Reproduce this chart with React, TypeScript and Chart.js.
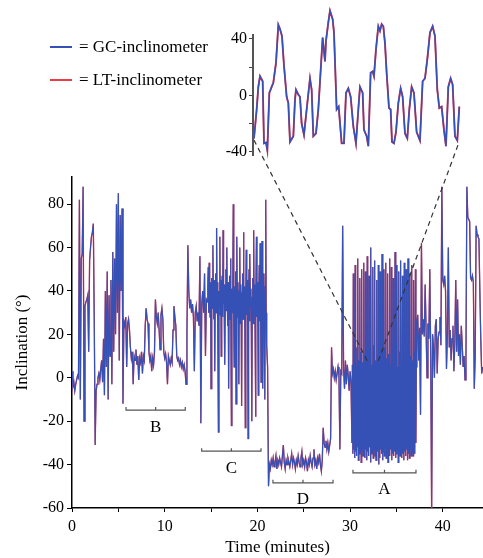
import React, { useEffect, useRef } from "react";
import { Chart, registerables } from "chart.js";

Chart.register(...registerables);

const SERIF = "'Liberation Serif', 'Times New Roman', serif";
const GC_COLOR = "#3651b6";
const LT_COLOR = "#ec3c46";
const INK = "#000000";

const seriesNames = ["GC-inclinometer", "LT-inclinometer"];

// ---- Main record (inclination in degrees) ----
const seg1Start = 0;
const seg1Step = 0.1;
const seg1 = [
  3, -4, -2, -6, -3, -1, 1, 0, 82, -10,
  55, 57, 88, -20, 33, 35, 36, 38, 12, 54,
  60, 65, 67, 71, 27, -31, -6, -3, 0, 2,
  -1, 4, 8, -2, 18, -8, 40, 5, 49, -10,
  38, 10, 45, -3, 58, 12, 55, 20, 80, 30,
  85, 8, 75, 40, 78, -12, 26, 24, 28, 5,
  25, 27, 22, 14, 9, 12, -3, 10, 8, 13,
  6, 10, -1, 9, 7, 12, 2, 10, 8, 24,
  32, 27, 25, 12, 8, 10, 3, 9, 6, 12,
  36, 28, 25, 30, 22, 13, 29, 32, 27, 12,
  9, 11, 7, -3, 10, 8, 6, 9, 7, 22,
  33, 28, 24, 10, 8, 9, 6, 8, 5, 7,
  4, 6, 3, -3, 20, 61, 40, 32, 36, 30,
  34, 28, 3, 30, 33, 26, 30, 24, 56, -21,
  34, 40, 30, 48, 10, 36,
];

const segCStart = 14.6;
const segCStep = 0.05;
const segC = [
  35, 42, 51, 30, 53, 38, 28, 44, -5, 36,
  46, 32, 61, 40, 27, 45, 3, 38, 48, 30,
  69, 35, 44, 26, -25, 40, 33, 65, 29, 45,
  10, 38, 47, 28, 68, 34, 43, 25, 6, 39,
  50, 31, 60, 36, 24, 44, -5, 35, 47, 27,
  55, 38, -22, 41, 30, 46, 80, 26, 5, 42,
  33, 49, -12, 37, 65, 28, 44, 32, -3, 40,
  60, 25, 43, 34, -13, 39, 48, 27, 67, 31,
  42, 22, -23, 38, 59, 29, 45, 24, -28, 36,
  50, 26, 57, 33, 41, 20, -20, 37, 46, 25,
  68, 30, 43, 22, -18, 35, 65, 28, 44, 24,
  -8, 38, 52, 26, 62, 31, -2, 40, 63, 27,
  -5, 36, 48, 23, -10, 42, 82, 30,
];

const seg3Start = 21.0;
const seg3Step = 0.1;
const seg3 = [
  15, 5, -50, -40, -42, -38, -40, -37, -41, -39,
  -36, -42, -38, -40, -37, -39, -41, -36, -31, -39,
  -42, -38, -40, -37, -39, -41, -38, -35, -40, -37,
  -39, -42, -38, -40, -36, -39, -41, -37, -34, -40,
  -38, -41, -37, -39, -43, -38, -40, -36, -39, -41,
  -37, -33, -40, -38, -42, -37, -39, -35, -40, -43,
  -38, -23, -30, -32, -29, -33, -30, -34, -31, -28,
  14, 2, 4, 0, 3, -1, 2, 5, 1, -33,
  3, 2, 70, 4, -5, 8, -3, 6, 1, -6,
  3, -2,
];

const segAStart = 30.2;
const segAStep = 0.05;
const segA = [
  -30, 6, -35, 48, -33, 10, -37, 52, -34, 5, -36, 14,
  -32, 55, -38, 8, -35, 46, -34, 12, -39, 50, -33, 7,
  -36, 53, -35, 11, -37, 49, -33, 4, -38, 56, -34, 13,
  -36, 47, -32, 9, -39, 60, -35, 6, -34, 51, -37, 15,
  -33, 54, -36, 8, -38, 45, -35, 10, -34, 52, -40, 5,
  -37, 49, -33, 12, -35, 57, -38, 7, -34, 50, -36, 14,
  -32, 53, -37, 9, -35, 48, -39, 11, -34, 55, -36, 6,
  -33, 51, -38, 13, -35, 46, -36, 8, -34, 58, -37, 10,
  -35, 52, -33, 5, -39, 49, -34, 12, -36, 54, -32, 7,
  -37, 47, -35, 11, -38, 53, -34, 9, -36, 50, -33, 14,
  -38, 55, -35, 6, -37, 48, -33, 10, -36, 52, -34, 8,
  -36, 45, -32, 12, -35, 50, -30, 5,
];

const seg5Start = 37.2;
const seg5Step = 0.1;
const seg5 = [
  25, 29, 8, 23, -17, 62, 20, 27, 19, 43,
  22, 0, 25, 18, 50, 10, -62, 20, 14, 0,
  24, 27, 2, 18, 21, 28, 15, 88, 45, 43,
  47, 40, 4, 20, 60, 14, 22, 8, 18, 24,
  3, 16, 45, 12, 36, 10, 20, 6, 24, 15,
  5, 10, -1, 8, 88, 74, 73, 72, 46, 45,
  47, 44, -5, 10, 70, 66, 65, 64, 40, 18,
  2, 5,
];

// ---- Inset: close-up of region A (seconds within the close-up window) ----
const insetTime = [
  0, 0.8, 1.3, 1.8, 2.6, 3.0, 3.6, 4.0, 4.6, 5.3,
  5.8, 6.6, 7.3, 7.8, 8.4, 9.0, 9.8, 10.3, 10.8, 11.8,
  12.3, 12.6, 13.3, 13.8, 14.3, 15.0, 15.8, 16.8, 17.3, 17.8,
  18.6, 19.3, 20.6, 21.3, 21.6, 22.3, 22.8, 23.6, 24.0, 24.8,
  25.4, 26.3, 27.0, 27.6, 28.3, 29.0, 29.8, 30.6, 31.3, 31.8,
  32.6, 33.0, 33.8, 34.3, 35.0, 35.6, 36.0, 36.6, 37.3, 37.8,
  38.3, 38.8, 39.3, 39.8, 40.5, 41.0, 41.4, 42.0, 42.6, 43.3,
  44.0, 44.6, 45.3, 46.0, 46.6, 47.3, 48.0, 48.8, 49.8, 50.6,
  51.3, 52.0, 52.8, 53.6, 54.3, 55.0, 55.6, 56.3, 57.0, 57.6,
  58.3, 59.0, 59.6, 60.3, 61.0, 61.6,
];
const insetValue = [
  -30.5, -10, 6, 13.6, 10, -34, -33.5, -39, 1.7, 6,
  9, 23, 50, 47, 42, 21, -1, -5.5, -33, -29,
  -3, 4, 0.5, -1, -20, -28, -10, 12, 4, -29,
  -27, -10, 41, 24, 38.6, 51.7, 60, 54, 44.5, -10,
  -8, -34, -34, 1.7, 5, -1, -22, -34, -10, 6,
  1.7, -24.5, -29, -36, 16, 17, 13.6, 32.6, 49, 45.7,
  50.5, 49, 37, 16, -9, -10, -33, -34, -26, -5.5,
  5, -1, -27, -30.5, -10, 6, 1.7, -26, -32, 10,
  12, 25.5, 44.5, 49, 42, 4, -9, -8, -24.5, -36,
  6, 12, 7.6, -29, -32, -8,
];

// ---- Axis ranges and ticks ----
const mainXMin = 0;
const mainXMax = 44.34;
const mainXStep = 5;
const mainXLabelEvery = 10;
const mainYMin = -60;
const mainYMax = 92.5;
const mainYStep = 20;
const insetYMin = -42.3;
const insetYMax = 42.8;
const insetYStep = 20;
const insetYLabelEvery = 40;
const insetXMin = -0.3;
const insetXMax = 61.6;

// ---- Annotations: labelled brackets under the activity phases ----
const bracketLabels = ["B", "C", "D", "A"];
const bracketFrom = [5.83, 13.99, 21.68, 30.31];
const bracketTo = [12.22, 20.39, 28.16, 37.11];
const bracketLevel = [-14.9, -33.8, -48.4, -43.8];

// ---- Dashed links from the inset to region A (main-chart data coordinates) ----
const linkTopT = [19.63, 41.64];
const linkTopV = [109.5, 107.2];
const linkBottomT = [31.93, 33.0];
const linkBottomV = [7.2, 7.2];

function segmentPoints(start: number, step: number, values: number[]) {
  return values.map((v, i) => ({ x: Math.round((start + i * step) * 1000) / 1000, y: v }));
}

const mainPoints = [
  ...segmentPoints(seg1Start, seg1Step, seg1),
  ...segmentPoints(segCStart, segCStep, segC),
  ...segmentPoints(seg3Start, seg3Step, seg3),
  ...segmentPoints(segAStart, segAStep, segA),
  ...segmentPoints(seg5Start, seg5Step, seg5),
];

const insetPoints = insetTime.map((t, i) => ({ x: t, y: insetValue[i] }));

const annotationPlugin = {
  id: "phaseAnnotations",
  afterDatasetsDraw(chart: any) {
    const { ctx, scales } = chart;
    const x = scales.x;
    const y = scales.y;
    ctx.save();
    ctx.setLineDash([5, 4]);
    ctx.strokeStyle = "#333333";
    ctx.lineWidth = 1.2;
    for (let i = 0; i < linkTopT.length; i++) {
      ctx.beginPath();
      ctx.moveTo(x.getPixelForValue(linkTopT[i]), y.getPixelForValue(linkTopV[i]));
      ctx.lineTo(x.getPixelForValue(linkBottomT[i]), y.getPixelForValue(linkBottomV[i]));
      ctx.stroke();
    }
    ctx.setLineDash([]);
    ctx.strokeStyle = "#555555";
    ctx.lineWidth = 1.2;
    ctx.fillStyle = INK;
    ctx.font = `17px ${SERIF}`;
    ctx.textAlign = "center";
    ctx.textBaseline = "middle";
    for (let i = 0; i < bracketLabels.length; i++) {
      const x0 = x.getPixelForValue(bracketFrom[i]);
      const x1 = x.getPixelForValue(bracketTo[i]);
      const py = y.getPixelForValue(bracketLevel[i]);
      const mid = (x0 + x1) / 2;
      ctx.beginPath();
      ctx.moveTo(x0, py - 3);
      ctx.lineTo(x0, py);
      ctx.lineTo(x1, py);
      ctx.lineTo(x1, py - 3);
      ctx.moveTo(mid, py);
      ctx.lineTo(mid, py - 3);
      ctx.stroke();
      ctx.fillText(bracketLabels[i], mid, py + 17);
    }
    ctx.restore();
  },
};

export default function App() {
  const mainRef = useRef<HTMLCanvasElement>(null);
  const insetRef = useRef<HTMLCanvasElement>(null);

  useEffect(() => {
    if (!mainRef.current || !insetRef.current) return;
    const tickFont = { family: SERIF, size: 16 };
    const titleFont = { family: SERIF, size: 17 };

    const main = new Chart(mainRef.current, {
      type: "line",
      data: {
        datasets: [
          {
            label: seriesNames[0],
            data: mainPoints,
            borderColor: GC_COLOR,
            borderWidth: 1.15,
            pointRadius: 0,
            tension: 0,
          },
          {
            label: seriesNames[1],
            data: mainPoints,
            borderColor: LT_COLOR,
            borderWidth: 1.35,
            pointRadius: 0,
            tension: 0,
          },
        ],
      },
      options: {
        responsive: false,
        animation: false,
        parsing: false,
        normalized: true,
        events: [],
        layout: { padding: { top: 177, right: 0, bottom: 0, left: 0 } },
        plugins: { legend: { display: false }, tooltip: { enabled: false } },
        scales: {
          x: {
            type: "linear",
            min: mainXMin,
            max: mainXMax,
            afterFit: (s: any) => {
              s.height = 50;
            },
            ticks: {
              stepSize: mainXStep,
              includeBounds: false,
              autoSkip: false,
              maxRotation: 0,
              padding: 5,
              color: INK,
              font: tickFont,
              callback: (v: any) => (Number(v) % mainXLabelEvery === 0 ? String(v) : ""),
            },
            grid: { display: true, drawOnChartArea: false, drawTicks: true, tickLength: 4, color: INK },
            border: { display: true, color: INK, width: 1.5 },
            title: { display: true, text: "Time (minutes)", color: INK, font: titleFont, padding: { top: 0, bottom: 0 } },
          },
          y: {
            type: "linear",
            min: mainYMin,
            max: mainYMax,
            afterFit: (s: any) => {
              s.width = 72;
            },
            ticks: {
              stepSize: mainYStep,
              includeBounds: false,
              padding: 3,
              color: INK,
              font: tickFont,
            },
            grid: { display: true, drawOnChartArea: false, drawTicks: true, tickLength: 5, color: INK },
            border: { display: true, color: INK, width: 1.5 },
            title: { display: true, text: "Inclination (°)", color: INK, font: titleFont, padding: { top: 12, bottom: 0 } },
          },
        },
      },
      plugins: [annotationPlugin],
    } as any);

    const inset = new Chart(insetRef.current, {
      type: "line",
      data: {
        datasets: [
          {
            label: seriesNames[0],
            data: insetPoints,
            borderColor: GC_COLOR,
            borderWidth: 1.5,
            pointRadius: 0,
            tension: 0,
            clip: false,
          },
          {
            label: seriesNames[1],
            data: insetPoints,
            borderColor: LT_COLOR,
            borderWidth: 1.9,
            pointRadius: 0,
            tension: 0,
            clip: false,
          },
        ],
      },
      options: {
        responsive: false,
        animation: false,
        parsing: false,
        events: [],
        layout: { padding: { top: 35, right: 23.7, bottom: 15, left: 0 } },
        plugins: { legend: { display: false }, tooltip: { enabled: false } },
        scales: {
          x: { type: "linear", display: false, min: insetXMin, max: insetXMax },
          y: {
            type: "linear",
            min: insetYMin,
            max: insetYMax,
            afterFit: (s: any) => {
              s.width = 53;
            },
            ticks: {
              stepSize: insetYStep,
              includeBounds: false,
              padding: 2,
              color: INK,
              font: tickFont,
              callback: (v: any) => (Number(v) % insetYLabelEvery === 0 ? String(v) : ""),
            },
            grid: { display: true, drawOnChartArea: false, drawTicks: true, tickLength: 4, color: "#444444" },
            border: { display: true, color: "#555555", width: 2 },
          },
        },
      },
    } as any);

    return () => {
      main.destroy();
      inset.destroy();
    };
  }, []);

  const legendText: React.CSSProperties = {
    position: "absolute",
    left: 79,
    font: `17px ${SERIF}`,
    lineHeight: "20px",
    whiteSpace: "nowrap",
    color: INK,
  };

  return (
    <div style={{ position: "fixed", left: 0, top: 0, width: 483, height: 558, background: "#ffffff", overflow: "hidden" }}>
      <canvas ref={mainRef} width={483} height={558} style={{ position: "absolute", left: 0, top: 0 }} />
      <canvas ref={insetRef} width={283} height={170} style={{ position: "absolute", left: 200, top: 0 }} />
      <div style={{ position: "absolute", left: 50, top: 46, width: 22, height: 2, background: GC_COLOR }} />
      <div style={{ ...legendText, top: 37 }}>= {seriesNames[0]}</div>
      <div style={{ position: "absolute", left: 50, top: 79, width: 22, height: 2, background: LT_COLOR }} />
      <div style={{ ...legendText, top: 70 }}>= {seriesNames[1]}</div>
    </div>
  );
}
